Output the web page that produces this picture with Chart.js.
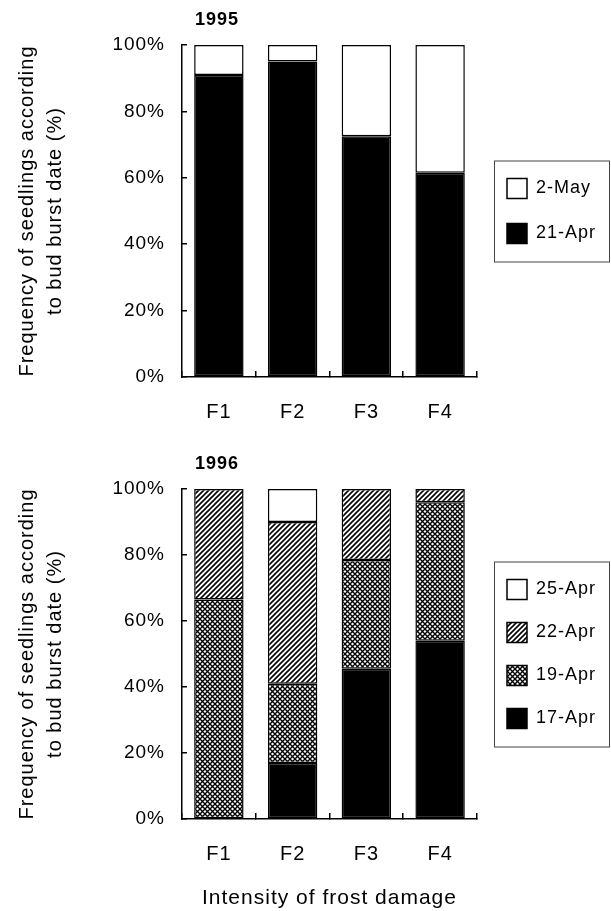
<!DOCTYPE html>
<html>
<head>
<meta charset="utf-8">
<script src="https://cdn.jsdelivr.net/npm/chart.js@4.4.1/dist/chart.umd.min.js"></script>
<style>
  body { margin: 0; background: #fff; width: 611px; height: 911px; position: relative; overflow: hidden; }
  canvas { position: absolute; left: 0; }
  #chart95 { top: 0; }
  #chart96 { top: 444px; }
</style>
</head>
<body>
<canvas id="chart95" width="611" height="426"></canvas>
<canvas id="chart96" width="611" height="467"></canvas>
<script>
// Frost damage classes and bud burst frequencies (%)
const frostClasses = ['F1', 'F2', 'F3', 'F4'];

// 1995
const apr21_95 = [91, 95, 72.5, 61.5];
const may2_95 = [9, 5, 27.5, 38.5];

// 1996
const apr17_96 = [0, 17, 45.5, 54];
const apr19_96 = [66.5, 24, 33, 42];
const apr22_96 = [33.5, 49, 21.5, 4];
const apr25_96 = [0, 10, 0, 0];

const yTitle = ['Frequency of seedlings according', 'to bud burst date (%)'];
const xTitle = 'Intensity of frost damage';

Chart.defaults.font.family = "'Liberation Sans', Arial, sans-serif";
Chart.defaults.color = '#000';
Chart.defaults.animation = false;

// fill patterns
function hatchPattern() {
    const c = document.createElement('canvas');
    c.width = c.height = 5;
    const g = c.getContext('2d');
    g.fillStyle = '#fff';
    g.fillRect(0, 0, 5, 5);
    g.strokeStyle = '#000';
    g.lineWidth = 1.6;
    g.beginPath();
    g.moveTo(-1, 6); g.lineTo(6, -1);
    g.moveTo(-1, 1); g.lineTo(1, -1);
    g.moveTo(4, 6); g.lineTo(6, 4);
    g.stroke();
    return g.createPattern(c, 'repeat');
}

function crossPattern() {
    const c = document.createElement('canvas');
    c.width = c.height = 5;
    const g = c.getContext('2d');
    g.fillStyle = '#fff';
    g.fillRect(0, 0, 5, 5);
    g.strokeStyle = '#000';
    g.lineWidth = 1.4;
    g.beginPath();
    g.moveTo(-1, -1); g.lineTo(6, 6);
    g.moveTo(-1, 6); g.lineTo(6, -1);
    g.stroke();
    return g.createPattern(c, 'repeat');
}

// a little letter spacing like the printed figure
const spacing = {
    id: 'spacing',
    beforeUpdate(chart) { chart.ctx.letterSpacing = '1px'; },
    beforeDraw(chart) { chart.ctx.letterSpacing = '1px'; }
};

// nudge title and legend into place, frame the legend
const legendFrame = {
    id: 'legendFrame',
    afterLayout(chart) {
        const opts = chart.options.plugins.legendFrame;
        const lg = chart.legend;
        const dx = opts.itemX - lg.options.labels.padding - lg.left;
        lg.left += dx;
        lg.right += dx;
        chart.titleBlock.left += opts.titleShift;
        chart.titleBlock.right += opts.titleShift;
    },
    afterDraw(chart) {
        const lg = chart.legend;
        const boxes = lg.legendHitBoxes;
        if (!boxes.length) return;
        const first = boxes[0], last = boxes[boxes.length - 1];
        const x0 = chart.options.plugins.legendFrame.itemX - 13;
        const y0 = first.top - 18;
        const y1 = last.top + last.height + 18;
        const ctx = chart.ctx;
        ctx.save();
        ctx.strokeStyle = '#444';
        ctx.lineWidth = 1;
        ctx.strokeRect(x0 + 0.5, y0 + 0.5, chart.width - 2 - x0, y1 - y0);
        ctx.restore();
    }
};

function bar(label, values, fill) {
    return {
        label: label,
        data: values,
        backgroundColor: fill,
        borderColor: '#000',
        borderWidth: 1.5,
        borderSkipped: false,
        barPercentage: 0.67,
        categoryPercentage: 1.0
    };
}

function stackedOptions(year, legendPad, rightPad, axisHeight, bottomTitle) {
    return {
        responsive: false,
        events: [],
        layout: { padding: { left: 0, right: rightPad, top: 0, bottom: 0 } },
        plugins: {
            title: {
                display: true,
                text: year,
                align: 'start',
                fullSize: false,
                font: { size: 18, weight: 'bold' },
                padding: { top: 9, bottom: 14.4 }
            },
            legend: {
                position: 'right',
                fullSize: false,
                reverse: true,
                labels: { boxWidth: 20, boxHeight: 20, padding: legendPad, font: { size: 18 } }
            },
            legendFrame: { itemX: 507, titleShift: 13 },
            tooltip: { enabled: false }
        },
        scales: {
            x: {
                stacked: true,
                grid: { offset: true, drawOnChartArea: false, tickLength: -6, color: '#000', lineWidth: 1.5 },
                border: { color: '#000', width: 1.5 },
                ticks: { font: { size: 20 }, padding: 29 },
                title: { display: !!bottomTitle, text: bottomTitle || '', font: { size: 21 }, padding: 0 },
                afterFit(scale) { scale.height = axisHeight; }
            },
            y: {
                stacked: true,
                min: 0,
                max: 100,
                ticks: { stepSize: 20, font: { size: 19 }, padding: 22, callback: v => v + '%' },
                grid: { drawOnChartArea: false, tickLength: -5, color: '#000', lineWidth: 1.5 },
                border: { color: '#000', width: 1.5 },
                title: { display: true, text: yTitle, font: { size: 20, lineHeight: 1.4 }, padding: { top: 13, bottom: 0 } },
                afterFit(scale) { scale.width = 182; }
            }
        }
    };
}

new Chart('chart95', {
    type: 'bar',
    data: {
        labels: frostClasses,
        datasets: [
            bar('21-Apr', apr21_95, '#000'),
            bar('2-May', may2_95, '#fff')
        ]
    },
    options: stackedOptions('1995', 25, 10, 49, null),
    plugins: [spacing, legendFrame]
});

new Chart('chart96', {
    type: 'bar',
    data: {
        labels: frostClasses,
        datasets: [
            bar('17-Apr', apr17_96, '#000'),
            bar('19-Apr', apr19_96, crossPattern()),
            bar('22-Apr', apr22_96, hatchPattern()),
            bar('25-Apr', apr25_96, '#fff')
        ]
    },
    options: stackedOptions('1996', 23, 12, 92, xTitle),
    plugins: [spacing, legendFrame]
});
</script>
</body>
</html>
